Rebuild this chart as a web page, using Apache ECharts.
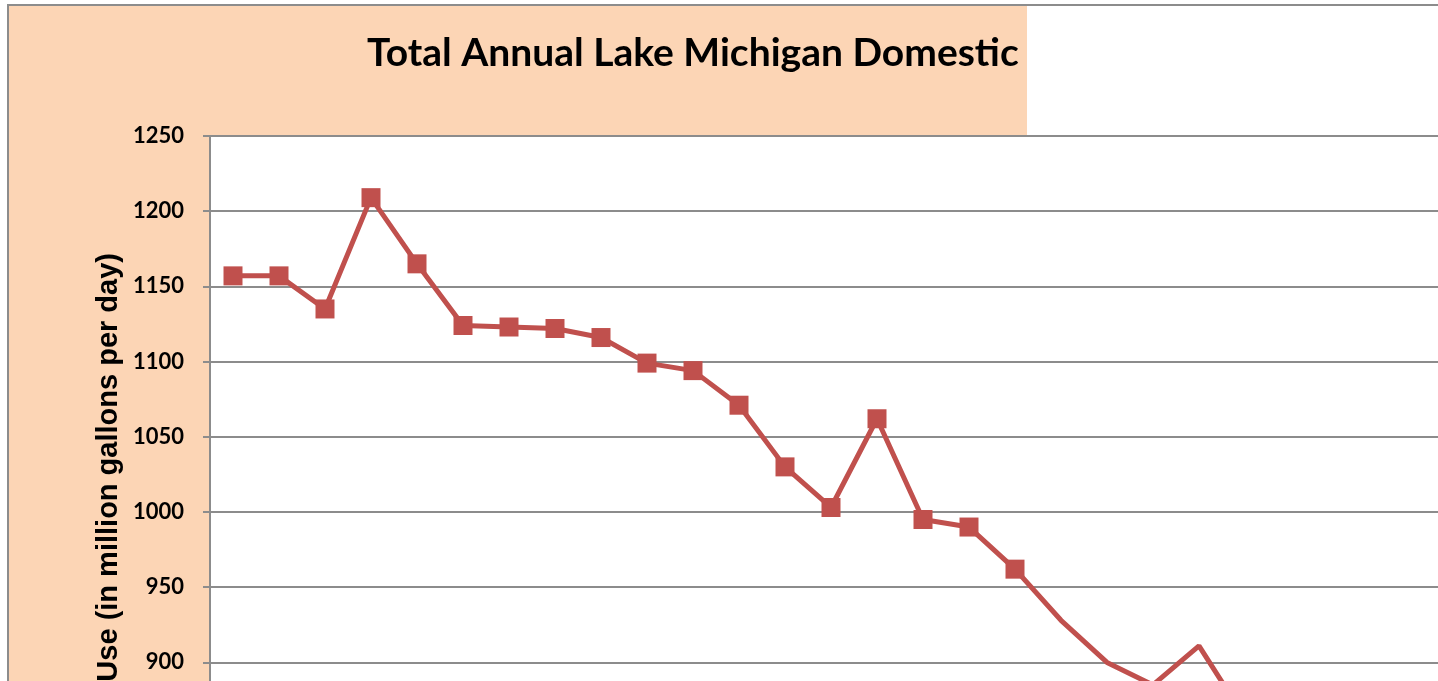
<!DOCTYPE html>
<html>
<head>
<meta charset="utf-8">
<title>Total Annual Lake Michigan Domestic</title>
<script src="https://cdn.jsdelivr.net/npm/echarts@6/dist/echarts.min.js"></script>
<style>
  html, body { margin: 0; padding: 0; overflow: hidden; background: #fff; }
  #main { width: 1520px; height: 950px; }
</style>
</head>
<body>
<div id="main"></div>
<script>
// year labels sit below the visible window
const years = ['1985', '1986', '1987', '1988', '1989', '1990', '1991', '1992', '1993', '1994',
  '1995', '1996', '1997', '1998', '1999', '2000', '2001', '2002', '2003', '2004',
  '2005', '2006', '2007', '2008', '2009', '2010', '2011', '2012'];
// million gallons per day (later points fall outside the view)
const domesticUse = [1157, 1157, 1135, 1209, 1165, 1124, 1123, 1122, 1116, 1099,
  1094, 1071, 1030, 1003, 1062, 995, 990, 962, 928, 900,
  885, 911, 863, null, null, null, null, null];
// only the first points carry square markers
const markedCount = 18;
const yTicks = { min: 750, max: 1250, step: 50 };

const peach = '#fcd5b5';
const red = '#c0504d';
const gridGrey = '#8c8c8c';

let myChart = echarts.init(document.getElementById('main'));

const seriesData = domesticUse.map(function (v, i) {
  return i < markedCount ? v : { value: v, symbol: 'none' };
});

myChart.setOption({
  animation: false,
  backgroundColor: '#fff',
  graphic: [
    {
      type: 'rect',
      z: -10,
      shape: { x: 8, y: 5, width: 1019, height: 1000 },
      style: { fill: peach }
    },
    {
      type: 'rect',
      z: 100,
      shape: { x: 8, y: 5, width: 2000, height: 1000 },
      style: { fill: 'none', stroke: '#8c8c8c', lineWidth: 2 }
    },
    {
      type: 'text',
      z: 100,
      x: 367,
      y: 53,
      style: {
        text: 'Total Annual Lake Michigan Domestic',
        fontFamily: 'Lato',
        fontWeight: 'bold',
        fontSize: 39,
        fill: '#000',
        align: 'left',
        verticalAlign: 'middle'
      }
    },
    {
      type: 'text',
      z: 100,
      x: 109,
      y: 253,
      rotation: Math.PI / 2,
      style: {
        text: 'Use (in million gallons per day)',
        fontFamily: 'Liberation Sans',
        fontWeight: 'bold',
        fontSize: 29,
        fill: '#000',
        align: 'right',
        verticalAlign: 'middle'
      }
    }
  ],
  grid: {
    left: 210,
    right: 22,
    top: 136,
    bottom: 62,
    show: true,
    backgroundColor: '#fff',
    borderWidth: 0
  },
  xAxis: {
    type: 'category',
    data: years,
    boundaryGap: true,
    axisLine: { lineStyle: { color: gridGrey, width: 2 } },
    axisTick: { show: false },
    axisLabel: { show: false }
  },
  yAxis: {
    type: 'value',
    min: yTicks.min,
    max: yTicks.max,
    interval: yTicks.step,
    axisLine: { show: true, lineStyle: { color: gridGrey, width: 2 } },
    axisTick: { show: true, length: 7, lineStyle: { color: gridGrey, width: 2 } },
    axisLabel: {
      margin: 26,
      color: '#000',
      fontFamily: 'Lato',
      fontWeight: 'bold',
      fontSize: 22,
      formatter: function (v) { return String(v); }
    },
    splitLine: { lineStyle: { color: gridGrey, width: 2 } }
  },
  series: [
    {
      name: 'Domestic use',
      type: 'line',
      data: seriesData,
      symbol: 'rect',
      symbolSize: 19,
      showAllSymbol: true,
      connectNulls: false,
      lineStyle: { color: red, width: 5 },
      itemStyle: { color: red }
    }
  ]
});
</script>
</body>
</html>
